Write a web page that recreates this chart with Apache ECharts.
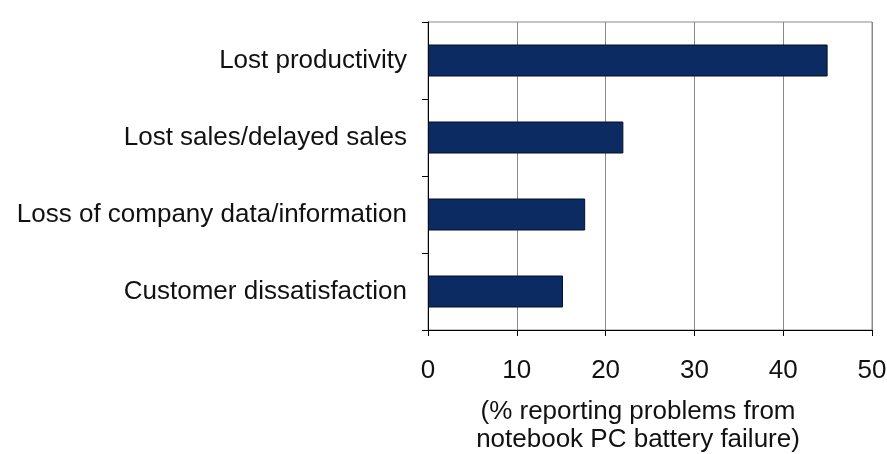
<!DOCTYPE html>
<html>
<head>
<meta charset="utf-8">
<script src="https://cdn.jsdelivr.net/npm/echarts@6/dist/echarts.min.js"></script>
<style>
html,body{margin:0;padding:0;background:#fff;}
#chart{width:887px;height:454px;}
</style>
</head>
<body>
<div id="chart"></div>
<script>
var categories = ['Lost productivity', 'Lost sales/delayed sales', 'Loss of company data/information', 'Customer dissatisfaction'];
var values = [45, 22, 17.7, 15.2];
var xTicks = [0, 10, 20, 30, 40, 50];
var axisTitle = '(% reporting problems from\nnotebook PC battery failure)';

var chart = echarts.init(document.getElementById('chart'));
var font = 'Liberation Sans';
chart.setOption({
  animation: false,
  backgroundColor: '#fff',
  grid: {left: 428, right: 15, top: 22, bottom: 124, show: true, borderColor: '#8a8a8a', borderWidth: 1, containLabel: false, outerBoundsMode: 'none'},
  xAxis: {
    type: 'value',
    min: xTicks[0],
    max: xTicks[xTicks.length - 1],
    interval: 10,
    axisLine: {show: true, lineStyle: {color: '#000', width: 1}},
    axisTick: {show: true, length: 6, lineStyle: {color: '#000'}},
    splitLine: {show: true, lineStyle: {color: '#8a8a8a', width: 1}},
    axisLabel: {color: '#111', fontFamily: font, fontSize: 26, margin: 28},
    name: axisTitle,
    nameLocation: 'middle',
    nameGap: 68,
    nameMoveOverlap: false,
    nameTextStyle: {color: '#111', fontFamily: font, fontSize: 26, lineHeight: 28, verticalAlign: 'top', padding: [0, 24, 0, 0]}
  },
  yAxis: {
    type: 'category',
    inverse: true,
    data: categories,
    axisLine: {show: true, lineStyle: {color: '#000', width: 1}},
    axisTick: {show: true, length: 6, lineStyle: {color: '#000'}},
    splitLine: {show: false},
    axisLabel: {color: '#111', fontFamily: font, fontSize: 26, margin: 21}
  },
  series: [{
    type: 'bar',
    data: values,
    barWidth: 32,
    itemStyle: {color: '#0c2b62', borderColor: '#050f22', borderWidth: 1}
  }]
});
</script>
</body>
</html>
